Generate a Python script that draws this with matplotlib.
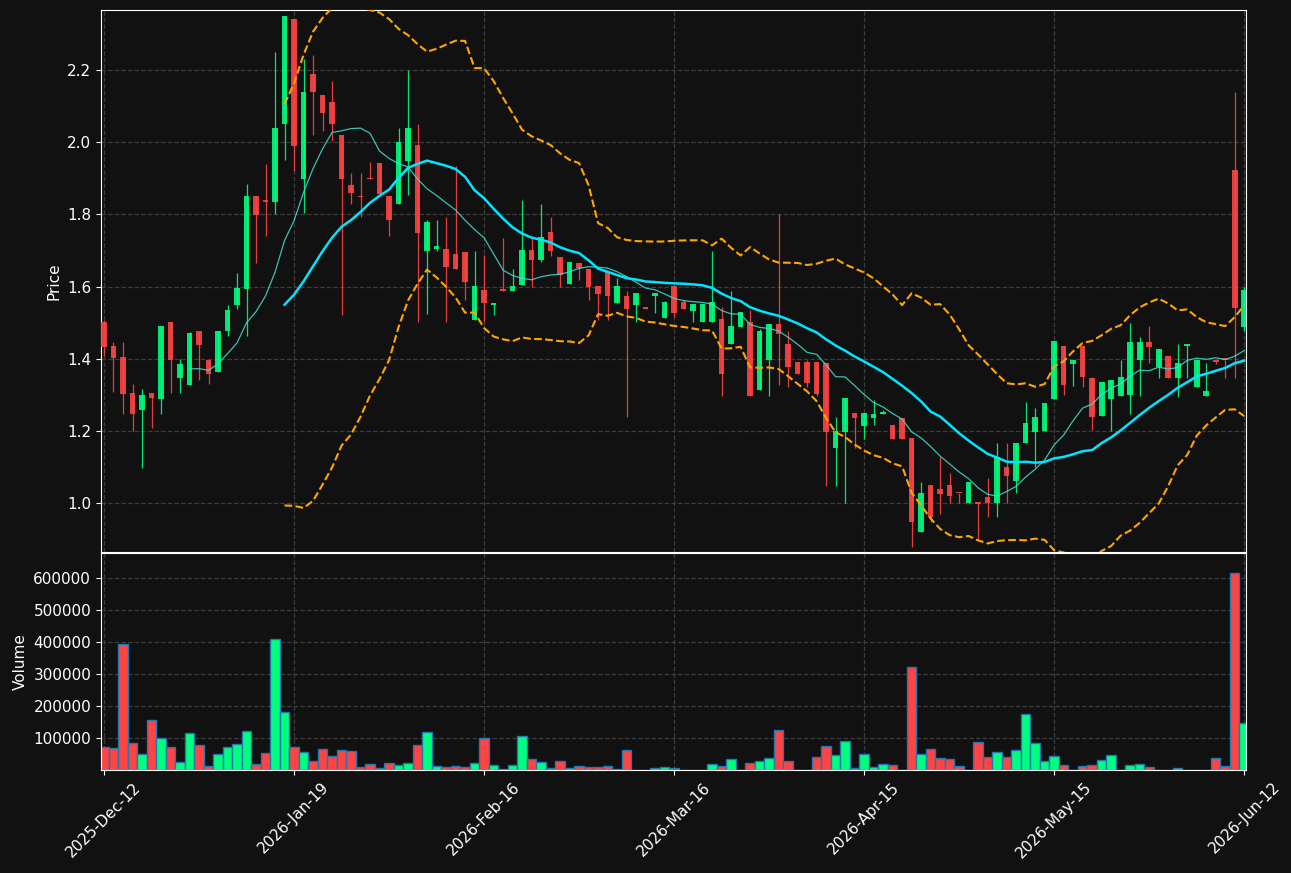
import numpy as np
import pandas as pd
import matplotlib
matplotlib.use("Agg")
import matplotlib.pyplot as plt

# daily bars
opens = [1.501, 1.435, 1.405, 1.305, 1.258, 1.305, 1.289, 1.501, 1.347, 1.328,
         1.476, 1.398, 1.364, 1.477, 1.549, 1.593, 1.850, 1.841, 1.834, 2.050,
         2.342, 1.897, 2.189, 2.131, 2.110, 2.021, 1.880, 1.849, 1.899, 1.941,
         1.850, 1.829, 1.949, 1.991, 1.699, 1.704, 1.705, 1.689, 1.695, 1.507,
         1.590, 1.549, 1.590, 1.589, 1.604, 1.700, 1.673, 1.750, 1.681, 1.607,
         1.665, 1.650, 1.601, 1.640, 1.554, 1.575, 1.549, 1.539, 1.574, 1.512,
         1.601, 1.556, 1.532, 1.502, 1.502, 1.509, 1.440, 1.487, 1.501, 1.313,
         1.396, 1.496, 1.440, 1.390, 1.390, 1.390, 1.387, 1.153, 1.198, 1.249,
         1.214, 1.236, 1.246, 1.216, 1.236, 1.180, 0.920, 1.051, 1.039, 1.051,
         1.029, 1.000, 1.000, 1.018, 1.000, 1.099, 1.061, 1.167, 1.198, 1.200,
         1.288, 1.435, 1.386, 1.435, 1.346, 1.241, 1.289, 1.297, 1.300, 1.396,
         1.447, 1.376, 1.409, 1.346, 1.435, 1.321, 1.297, 1.392, 1.398, 1.922,
         1.488]
highs = [1.507, 1.447, 1.447, 1.330, 1.315, 1.305, 1.490, 1.501, 1.400, 1.475,
         1.476, 1.398, 1.478, 1.549, 1.637, 1.884, 1.850, 1.939, 2.250, 2.349,
         2.342, 2.230, 2.240, 2.131, 2.169, 2.021, 1.915, 1.915, 1.944, 1.941,
         1.850, 2.039, 2.200, 2.051, 1.785, 1.785, 1.792, 1.933, 1.695, 1.699,
         1.687, 1.555, 1.735, 1.649, 1.840, 1.735, 1.829, 1.792, 1.681, 1.669,
         1.665, 1.650, 1.601, 1.640, 1.624, 1.588, 1.581, 1.544, 1.581, 1.559,
         1.601, 1.564, 1.551, 1.551, 1.699, 1.544, 1.588, 1.529, 1.535, 1.482,
         1.496, 1.800, 1.478, 1.390, 1.398, 1.390, 1.387, 1.238, 1.291, 1.249,
         1.249, 1.287, 1.257, 1.216, 1.236, 1.180, 1.058, 1.051, 1.129, 1.085,
         1.029, 1.058, 1.000, 1.071, 1.168, 1.168, 1.168, 1.281, 1.265, 1.277,
         1.448, 1.435, 1.398, 1.435, 1.350, 1.337, 1.341, 1.398, 1.500, 1.459,
         1.490, 1.428, 1.409, 1.440, 1.440, 1.398, 1.389, 1.398, 1.398, 2.139,
         1.600]
lows = [1.407, 1.309, 1.248, 1.200, 1.098, 1.209, 1.248, 1.304, 1.304, 1.328,
        1.340, 1.329, 1.364, 1.464, 1.538, 1.464, 1.664, 1.740, 1.800, 1.951,
        1.921, 1.804, 2.021, 2.031, 2.002, 1.520, 1.830, 1.794, 1.897, 1.857,
        1.740, 1.829, 1.854, 1.501, 1.524, 1.699, 1.501, 1.649, 1.564, 1.507,
        1.501, 1.520, 1.588, 1.589, 1.604, 1.600, 1.667, 1.685, 1.600, 1.607,
        1.618, 1.564, 1.507, 1.507, 1.554, 1.238, 1.503, 1.538, 1.527, 1.512,
        1.517, 1.537, 1.503, 1.502, 1.502, 1.298, 1.440, 1.487, 1.296, 1.313,
        1.298, 1.328, 1.323, 1.357, 1.323, 1.298, 1.049, 1.049, 1.000, 1.153,
        1.178, 1.216, 1.246, 1.178, 1.178, 0.879, 0.920, 0.948, 0.969, 1.000,
        1.000, 1.000, 0.901, 0.962, 0.962, 1.000, 1.028, 1.167, 1.100, 1.200,
        1.288, 1.300, 1.325, 1.323, 1.204, 1.241, 1.200, 1.297, 1.248, 1.298,
        1.389, 1.347, 1.346, 1.293, 1.347, 1.321, 1.297, 1.386, 1.346, 1.346,
        1.478]
closes = [1.433, 1.403, 1.303, 1.247, 1.299, 1.292, 1.490, 1.397, 1.386, 1.471,
          1.439, 1.358, 1.476, 1.535, 1.595, 1.850, 1.797, 1.834, 2.040, 2.349,
          1.989, 2.140, 2.138, 2.080, 2.050, 1.897, 1.858, 1.847, 1.897, 1.857,
          1.784, 2.001, 2.040, 1.748, 1.780, 1.711, 1.654, 1.649, 1.612, 1.601,
          1.555, 1.555, 1.589, 1.601, 1.700, 1.673, 1.736, 1.699, 1.632, 1.669,
          1.651, 1.599, 1.579, 1.573, 1.601, 1.537, 1.581, 1.538, 1.581, 1.556,
          1.527, 1.537, 1.551, 1.551, 1.556, 1.357, 1.490, 1.529, 1.296, 1.476,
          1.496, 1.469, 1.376, 1.357, 1.333, 1.302, 1.198, 1.200, 1.291, 1.236,
          1.249, 1.246, 1.252, 1.178, 1.178, 0.949, 1.028, 0.963, 1.026, 1.020,
          1.027, 1.058, 0.999, 1.000, 1.129, 1.076, 1.168, 1.223, 1.240, 1.277,
          1.448, 1.328, 1.398, 1.349, 1.240, 1.337, 1.341, 1.349, 1.447, 1.447,
          1.433, 1.428, 1.346, 1.388, 1.440, 1.398, 1.310, 1.391, 1.397, 1.540,
          1.590]
volumes = [72000, 69000, 394000, 84000, 50000, 155000, 99000, 72000, 25000, 116000,
           78000, 11000, 50000, 72000, 81000, 122000, 19000, 53000, 409000, 181000,
           72000, 56000, 28000, 66000, 44000, 62000, 59000, 9000, 19000, 6000,
           22000, 16000, 22000, 78000, 119000, 12000, 9000, 12000, 9000, 22000,
           100000, 16000, 2000, 16000, 106000, 34000, 25000, 6000, 28000, 6000,
           12000, 9000, 9000, 12000, 2000, 62000, 1000, 1000, 6000, 9000,
           6000, 1000, 1000, 1000, 19000, 12000, 34000, 1000, 22000, 28000,
           37000, 125000, 28000, 1000, 1000, 41000, 75000, 47000, 91000, 6000,
           50000, 9000, 19000, 16000, 1000, 322000, 50000, 66000, 37000, 34000,
           12000, 1000, 87000, 41000, 56000, 41000, 62000, 175000, 84000, 28000,
           44000, 16000, 1000, 12000, 16000, 31000, 47000, 1000, 16000, 19000,
           9000, 1000, 1000, 6000, 1000, 1000, 1000, 37000, 12000, 616000,
           147000]
tick_labels = ["2025-Dec-12", "2026-Jan-19", "2026-Feb-16", "2026-Mar-16",
               "2026-Apr-15", "2026-May-15", "2026-Jun-12"]

BG = "#111111"
UP = "#00ff7f"
DOWN = "#ff4444"


def style_axis(ax):
    ax.set_facecolor(BG)
    for s in ax.spines.values():
        s.set_color("white")
    ax.tick_params(colors="white", labelsize=11)
    ax.grid(True, color="#3c3c3c", linestyle="--", linewidth=0.9)
    ax.set_axisbelow(True)


def main():
    o = np.array(opens)
    h = np.array(highs)
    l = np.array(lows)
    c = np.array(closes)
    v = np.array(volumes)
    x = np.arange(len(c))
    up = c >= o
    colors = np.where(up, UP, DOWN)

    cs = pd.Series(c)
    ma10 = cs.rolling(10).mean()
    ma20 = cs.rolling(20).mean()
    sd20 = cs.rolling(20).std(ddof=0)
    upper = ma20 + 2 * sd20
    lower = ma20 - 2 * sd20

    fig = plt.figure(figsize=(12.91, 8.73), dpi=100, facecolor=BG)
    ax1 = fig.add_axes([0.0782, 0.3677, 0.8870, 0.6209])
    ax2 = fig.add_axes([0.0782, 0.1180, 0.8870, 0.2486], sharex=ax1)
    style_axis(ax1)
    style_axis(ax2)

    # candles
    ax1.vlines(x, l, h, colors=colors, linewidth=0.9, alpha=0.9, zorder=2)
    body = np.maximum(np.abs(c - o), 0.005)
    ax1.bar(x, body, bottom=np.minimum(o, c), width=0.6, color=colors,
            alpha=0.9, linewidth=0, zorder=3)

    ax1.plot(x, ma10, color="#40e0d0", linewidth=0.9, alpha=0.85, zorder=4)
    ax1.plot(x, ma20, color="#00e5ff", linewidth=1.8, zorder=4)
    ax1.plot(x, upper, color="orange", linestyle="--", linewidth=1.5, zorder=4)
    ax1.plot(x, lower, color="orange", linestyle="--", linewidth=1.5, zorder=4)

    ax1.set_ylim(0.865, 2.366)
    ax1.set_yticks([1.0, 1.2, 1.4, 1.6, 1.8, 2.0, 2.2])
    ax1.set_ylabel("Price", color="white", fontsize=11)
    ax1.tick_params(axis="x", length=0, labelbottom=False)

    # volume
    ax2.bar(x, v, width=1.0, color=colors, edgecolor="#1f77b4", linewidth=1.0)
    ax2.set_ylim(0, 679000)
    ax2.set_yticks([100000, 200000, 300000, 400000, 500000, 600000])
    ax2.set_yticklabels([str(t) for t in [100000, 200000, 300000, 400000, 500000, 600000]])
    ax2.set_ylabel("Volume", color="white", fontsize=11)

    ax2.set_xlim(-0.32, 120.2)
    ax2.set_xticks(np.arange(0, len(c), 20))
    ax2.set_xticklabels(tick_labels, rotation=45)

    fig.savefig("out.png", dpi=100, facecolor=BG)


if __name__ == "__main__":
    main()
